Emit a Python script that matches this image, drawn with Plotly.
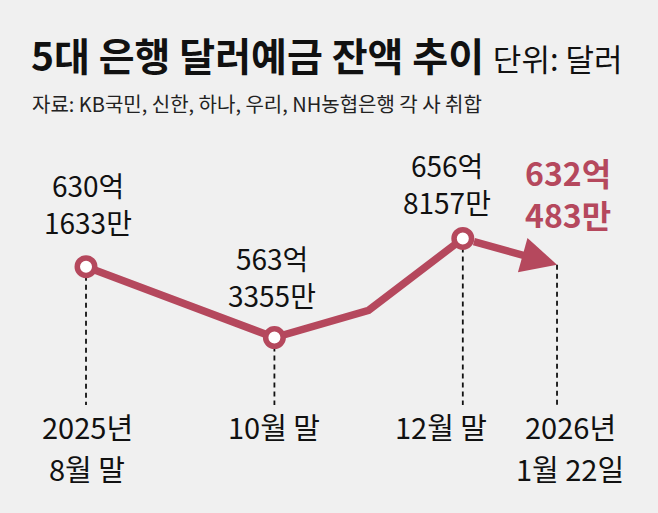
import plotly.graph_objects as go

# ---- data (억 달러) ----
period_index = [0, 1, 2, 3, 4, 5]          # 8월 말, 9월 말, 10월 말, 11월 말, 12월 말, 1월 22일
balance_eok = [630.1633, 596.0, 563.3355, 589.0, 656.8157, 632.0483]
labeled_index = [0, 2, 4, 5]
label_eok = ["630억", "563억", "656억", "632억"]
label_man = ["1633만", "3355만", "8157만", "483만"]
xlabel_line1 = ["2025년", "10월 말", "12월 말", "2026년"]
xlabel_line2 = ["8월 말", "", "", "1월 22일"]

# ---- styles ----
RED = "#b5485d"
BG = "#f0f0f0"
FONT = "Noto Sans CJK KR"
Y_RANGE = [499.7, 881.8]
X_RANGE = [-0.913, 6.072]
label_xshift = [2, -2, -16, 11]
label_yshift1 = [82, 80, 73, 93]
label_yshift2 = [45, 43, 36, 51]
xlabel_xshift = [1, 0, -22, 13]

fig = go.Figure()

# dashed guides
dx, dy = [], []
for i in labeled_index:
    dx += [period_index[i], period_index[i], None]
    dy += [balance_eok[i], Y_RANGE[0], None]
fig.add_trace(go.Scatter(x=dx, y=dy, mode="lines",
                         line=dict(color="#111111", width=1.8, dash="5px,4px"),
                         hoverinfo="skip", showlegend=False))

# main line (up to 12월 말)
fig.add_trace(go.Scatter(x=period_index[:5], y=balance_eok[:5], mode="lines",
                         line=dict(color=RED, width=7.5),
                         hoverinfo="skip", showlegend=False))

# circle markers
circ = [i for i in labeled_index if i != period_index[-1]]
fig.add_trace(go.Scatter(x=[period_index[i] for i in circ],
                         y=[balance_eok[i] for i in circ], mode="markers",
                         marker=dict(size=17.5, color="white",
                                     line=dict(color=RED, width=5.5)),
                         hoverinfo="skip", showlegend=False))

annotations = []
# arrow for last segment
annotations.append(dict(x=period_index[5], y=balance_eok[5], xref="x", yref="y",
                        ax=period_index[4], ay=balance_eok[4], axref="x", ayref="y",
                        showarrow=True, arrowhead=2, arrowsize=0.95, arrowwidth=7.5,
                        arrowcolor=RED, startstandoff=10, text=""))

# value labels (two lines each)
for k, i in enumerate(labeled_index):
    last = (k == len(labeled_index) - 1)
    fnt = dict(family=FONT, size=32 if last else 28,
               color=RED if last else "#111111")
    for txt, ys in ((label_eok[k], label_yshift1[k]), (label_man[k], label_yshift2[k])):
        annotations.append(dict(x=period_index[i], y=balance_eok[i], xref="x", yref="y",
                                text=f"<b>{txt}</b>" if last else txt,
                                showarrow=False, xanchor="center", yanchor="middle",
                                borderpad=0,
                                xshift=label_xshift[k], yshift=ys, font=fnt))

# x labels
for k, i in enumerate(labeled_index):
    annotations.append(dict(x=period_index[i], y=0, xref="x", yref="paper",
                            text=xlabel_line1[k], showarrow=False,
                            xanchor="center", yanchor="middle", borderpad=0,
                            xshift=xlabel_xshift[k], yshift=-21,
                            font=dict(family=FONT, size=29, color="#111111")))
    if xlabel_line2[k]:
        annotations.append(dict(x=period_index[i], y=0, xref="x", yref="paper",
                                text=xlabel_line2[k], showarrow=False,
                                xanchor="center", yanchor="middle", borderpad=0,
                                xshift=xlabel_xshift[k], yshift=-63,
                                font=dict(family=FONT, size=29, color="#111111")))

# subtitle
annotations.append(dict(x=33 / 658, y=1 - 103 / 405, xref="paper", yref="paper",
                        text="자료: KB국민, 신한, 하나, 우리, NH농협은행 각 사 취합",
                        showarrow=False, xanchor="left", yanchor="middle", xshift=-3,
                        font=dict(family=FONT, size=20, color="#222222")))

fig.update_layout(
    width=658, height=513,
    margin=dict(l=0, r=0, t=0, b=108),
    paper_bgcolor=BG, plot_bgcolor=BG,
    title=dict(text="<b>5대 은행 달러예금 잔액 추이</b> <span style='font-size:31px'>단위: 달러</span>",
               x=31 / 658, xanchor="left", xref="container",
               y=1 - 57 / 513, yanchor="middle", yref="container",
               font=dict(family=FONT, size=39, color="#111111")),
    xaxis=dict(visible=False, range=X_RANGE),
    yaxis=dict(visible=False, range=Y_RANGE),
    annotations=annotations,
    showlegend=False,
)

fig.write_html("out.html", config={"displayModeBar": False},
               post_script="document.body.style.margin='0';document.body.style.background='#f0f0f0';")
